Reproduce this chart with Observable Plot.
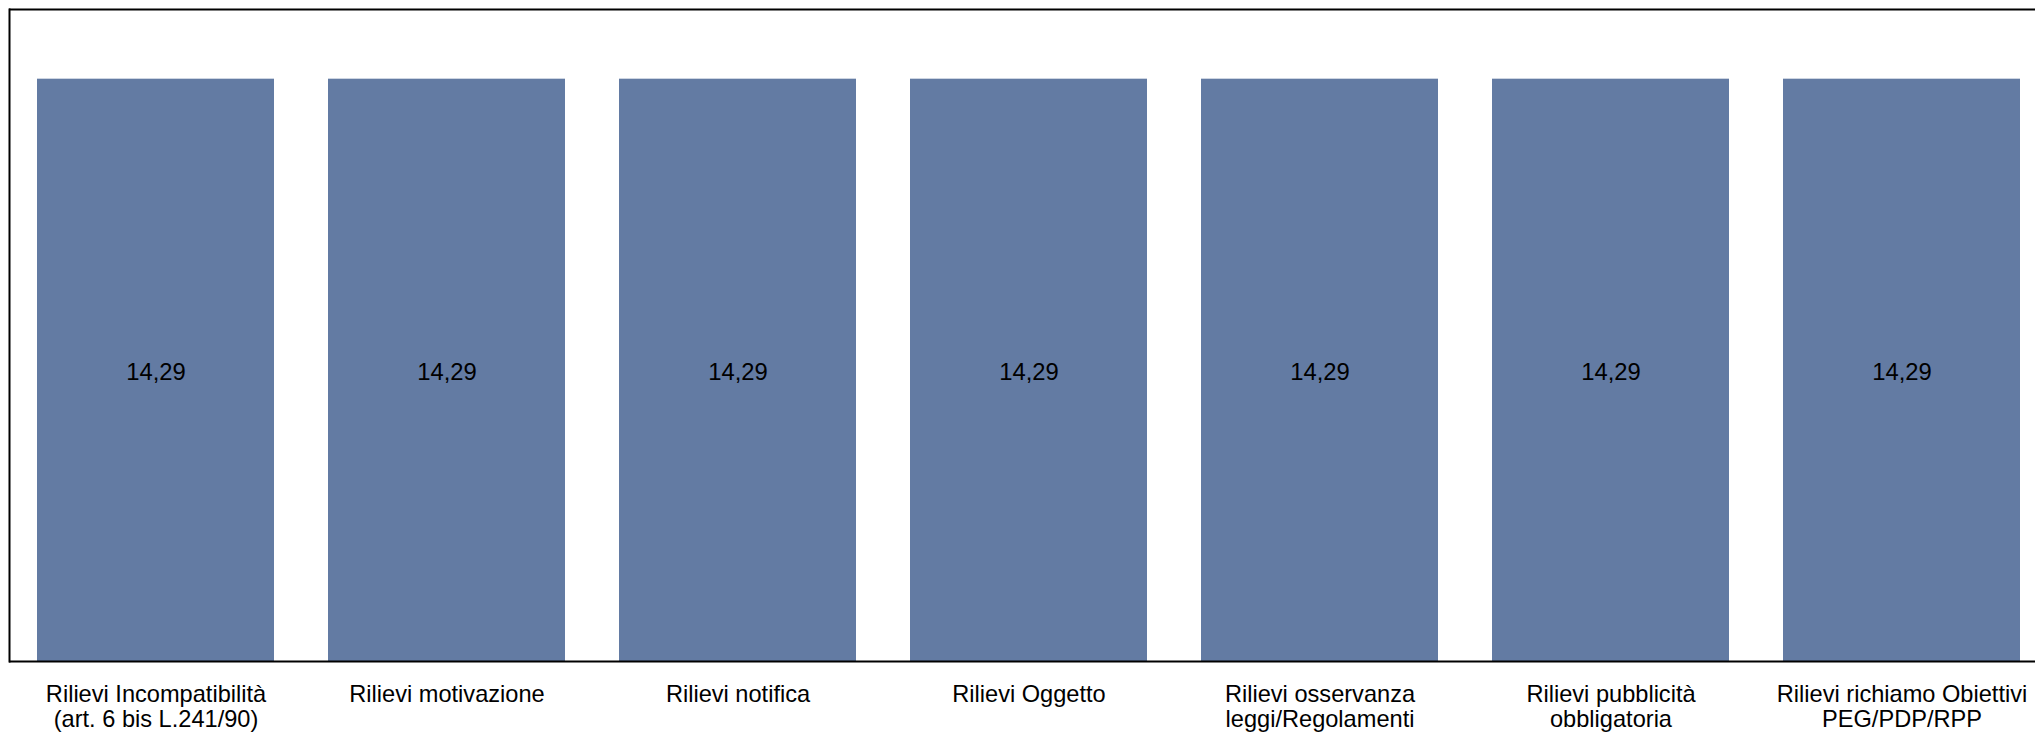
<!DOCTYPE html>
<html>
<head>
<meta charset="utf-8">
<script src="https://cdn.jsdelivr.net/npm/d3@7"></script>
<script src="https://cdn.jsdelivr.net/npm/@observablehq/plot@0.6"></script>
<style>
  html, body { margin: 0; padding: 0; background: #fff; }
  #chart svg { display: block; }
</style>
</head>
<body>
<div id="chart"></div>
<script>
const categories = [
  "Rilievi Incompatibilità\n(art. 6 bis L.241/90)",
  "Rilievi motivazione",
  "Rilievi notifica",
  "Rilievi Oggetto",
  "Rilievi osservanza\nleggi/Regolamenti",
  "Rilievi pubblicità\nobbligatoria",
  "Rilievi richiamo Obiettivi\nPEG/PDP/RPP"
];
const values = [14.29, 14.29, 14.29, 14.29, 14.29, 14.29, 14.29];
const yMax = 16;

const data = categories.map((c, i) => ({category: c, value: values[i]}));
const fmt = v => v.toFixed(2).replace(".", ",");
const font = "'Liberation Sans', Arial, Helvetica, sans-serif";

const chart = Plot.plot({
  width: 2035,
  height: 734,
  marginTop: 9,
  marginBottom: 73,
  marginLeft: 9,
  marginRight: 0,
  style: {fontFamily: font, fontSize: "23.6px", color: "#000", background: "#fff"},
  x: {domain: categories, range: [9, 2048], paddingInner: 0.1856, paddingOuter: 0.0962, label: null},
  y: {domain: [0, yMax], label: null},
  marks: [
    Plot.barY(data, {x: "category", y: "value", fill: "#637ba3"}),
    Plot.text(data, {x: "category", y: d => d.value / 2, text: d => fmt(d.value), fill: "#000", fontSize: 23.8, dy: 2}),
    Plot.ruleY([yMax], {stroke: "#000", strokeWidth: 2}),
    Plot.frame({anchor: "left", stroke: "#000", strokeWidth: 2}),
    Plot.ruleY([0], {stroke: "#000", strokeWidth: 2}),
    Plot.axisX({tickSize: 0, tickPadding: 23.5, fontSize: 23.6, lineHeight: 1.03, label: null, fill: "#000"}),
    Plot.axisY({ticks: [], label: null})
  ]
});
document.getElementById("chart").appendChild(chart);
</script>
</body>
</html>
